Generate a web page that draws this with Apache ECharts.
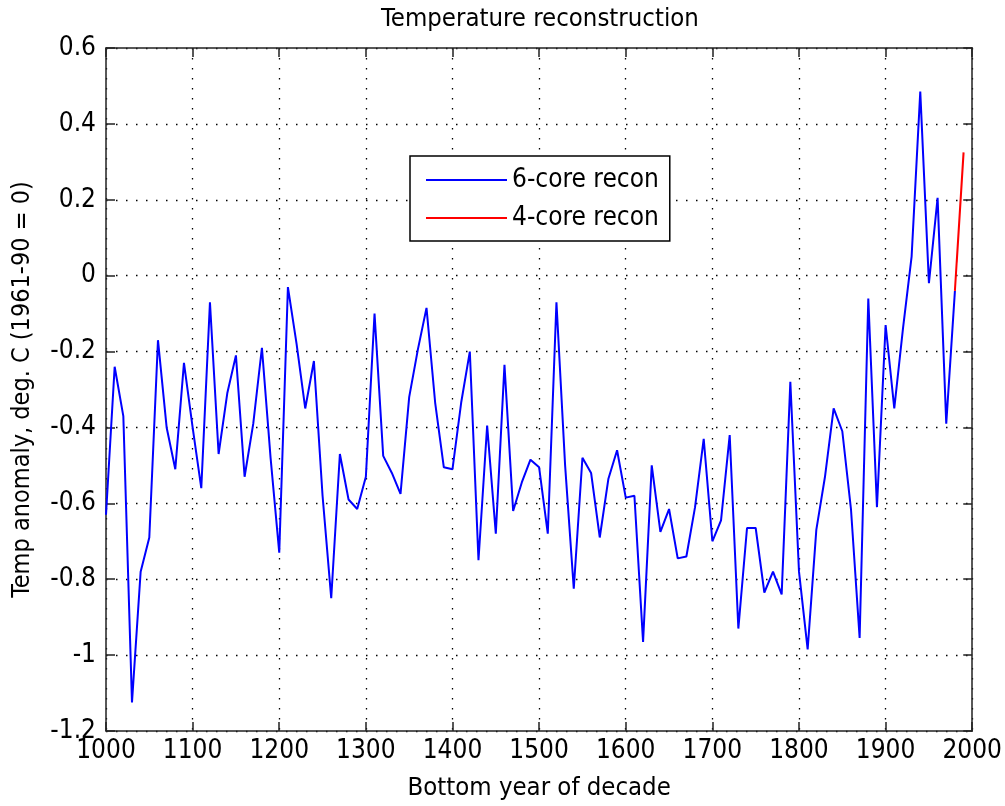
<!DOCTYPE html>
<html>
<head>
<meta charset="utf-8">
<script src="https://cdn.jsdelivr.net/npm/echarts@6/dist/echarts.min.js"></script>
<style>
  html, body { margin: 0; padding: 0; background: #fff; }
  #chart { width: 1005px; height: 806px; }
</style>
</head>
<body>
<div id="chart"></div>
<script>
// ---- Data ----
const years6 = [1000,1010,1020,1030,1040,1050,1060,1070,1080,1090,
                1100,1110,1120,1130,1140,1150,1160,1170,1180,1190,
                1200,1210,1220,1230,1240,1250,1260,1270,1280,1290,
                1300,1310,1320,1330,1340,1350,1360,1370,1380,1390,
                1400,1410,1420,1430,1440,1450,1460,1470,1480,1490,
                1500,1510,1520,1530,1540,1550,1560,1570,1580,1590,
                1600,1610,1620,1630,1640,1650,1660,1670,1680,1690,
                1700,1710,1720,1730,1740,1750,1760,1770,1780,1790,
                1800,1810,1820,1830,1840,1850,1860,1870,1880,1890,
                1900,1910,1920,1930,1940,1950,1960,1970,1980];
const temp6 = [-0.63,-0.24,-0.37,-1.125,-0.78,-0.69,-0.17,-0.40,-0.51,-0.23,
               -0.40,-0.56,-0.07,-0.47,-0.31,-0.21,-0.53,-0.39,-0.19,-0.48,
               -0.73,-0.03,-0.18,-0.35,-0.225,-0.58,-0.85,-0.47,-0.59,-0.615,
               -0.53,-0.10,-0.475,-0.52,-0.575,-0.32,-0.195,-0.085,-0.335,-0.505,
               -0.51,-0.335,-0.20,-0.75,-0.395,-0.68,-0.235,-0.62,-0.545,-0.485,
               -0.505,-0.68,-0.07,-0.50,-0.825,-0.48,-0.52,-0.69,-0.535,-0.46,
               -0.585,-0.58,-0.965,-0.50,-0.675,-0.615,-0.745,-0.74,-0.61,-0.43,
               -0.70,-0.645,-0.42,-0.93,-0.665,-0.665,-0.835,-0.78,-0.84,-0.28,
               -0.78,-0.985,-0.67,-0.53,-0.35,-0.41,-0.615,-0.955,-0.06,-0.61,
               -0.13,-0.35,-0.14,0.05,0.485,-0.02,0.205,-0.39,-0.04];
const years4 = [1980, 1990];
const temp4 = [-0.04, 0.325];
const seriesNames = ['6-core recon', '4-core recon'];

// ---- Chart ----
const FONT = "'Liberation Sans Narrow', 'DejaVu Sans Condensed', 'Liberation Sans', sans-serif";
const chart = echarts.init(document.getElementById('chart'), null, { renderer: 'canvas' });

const frame = { show: true, onZero: false, lineStyle: { color: '#222', width: 1.5 } };
const ticksIn = { show: true, inside: true, length: 9, lineStyle: { color: '#222', width: 1.5 } };
const grid = { show: true, lineStyle: { color: '#000', width: 1.3, type: [1.5, 8.5] } };

function yLabel(v) {
  return String(Math.round(v * 10) / 10);
}

const option = {
  backgroundColor: '#fff',
  animation: false,
  textStyle: { fontFamily: FONT },
  title: {
    text: 'Temperature reconstruction',
    left: 540, top: 6, textAlign: 'center', padding: 0,
    textStyle: { fontFamily: FONT, fontSize: 25.5, fontWeight: 'normal', color: '#000' }
  },
  legend: {
    data: seriesNames,
    orient: 'vertical',
    left: 410, top: 156,
    padding: [11, 11, 10, 16],
    itemWidth: 81, itemHeight: 2, itemGap: 12,
    icon: 'rect',
    backgroundColor: '#fff',
    borderColor: '#000', borderWidth: 1.5,
    textStyle: { fontFamily: FONT, fontSize: 26, color: '#000' }
  },
  grid: { left: 106, right: 30, top: 48, bottom: 74, containLabel: false },
  xAxis: [{
    type: 'value', min: 1000, max: 2000, interval: 100, position: 'bottom',
    name: 'Bottom year of decade', nameLocation: 'middle', nameGap: 44,
    nameTextStyle: { fontFamily: FONT, fontSize: 25.5, color: '#000' },
    axisLine: frame, axisTick: ticksIn, splitLine: grid,
    axisLabel: { fontFamily: FONT, fontSize: 26, color: '#000', margin: 7,
                 formatter: v => String(v) }
  }, {
    type: 'value', min: 1000, max: 2000, interval: 100, position: 'top',
    axisLine: frame, axisTick: ticksIn, splitLine: { show: false }, axisLabel: { show: false }
  }],
  yAxis: [{
    type: 'value', min: -1.2, max: 0.6, interval: 0.2, position: 'left',
    name: 'Temp anomaly, deg. C (1961-90 = 0)', nameLocation: 'middle', nameGap: 71,
    nameTextStyle: { fontFamily: FONT, fontSize: 25, color: '#000' },
    axisLine: frame, axisTick: ticksIn, splitLine: grid,
    axisLabel: { fontFamily: FONT, fontSize: 26, color: '#000', margin: 10, formatter: yLabel }
  }, {
    type: 'value', min: -1.2, max: 0.6, interval: 0.2, position: 'right',
    axisLine: frame, axisTick: ticksIn, splitLine: { show: false }, axisLabel: { show: false }
  }],
  series: [{
    name: seriesNames[0], type: 'line',
    data: years6.map((y, i) => [y, temp6[i]]),
    showSymbol: false, symbol: 'none',
    lineStyle: { color: '#0000ff', width: 2 }, itemStyle: { color: '#0000ff' },
    z: 3
  }, {
    name: seriesNames[1], type: 'line',
    data: years4.map((y, i) => [y, temp4[i]]),
    showSymbol: false, symbol: 'none',
    lineStyle: { color: '#ff0000', width: 2 }, itemStyle: { color: '#ff0000' },
    z: 4
  }]
};
chart.setOption(option);
</script>
</body>
</html>
